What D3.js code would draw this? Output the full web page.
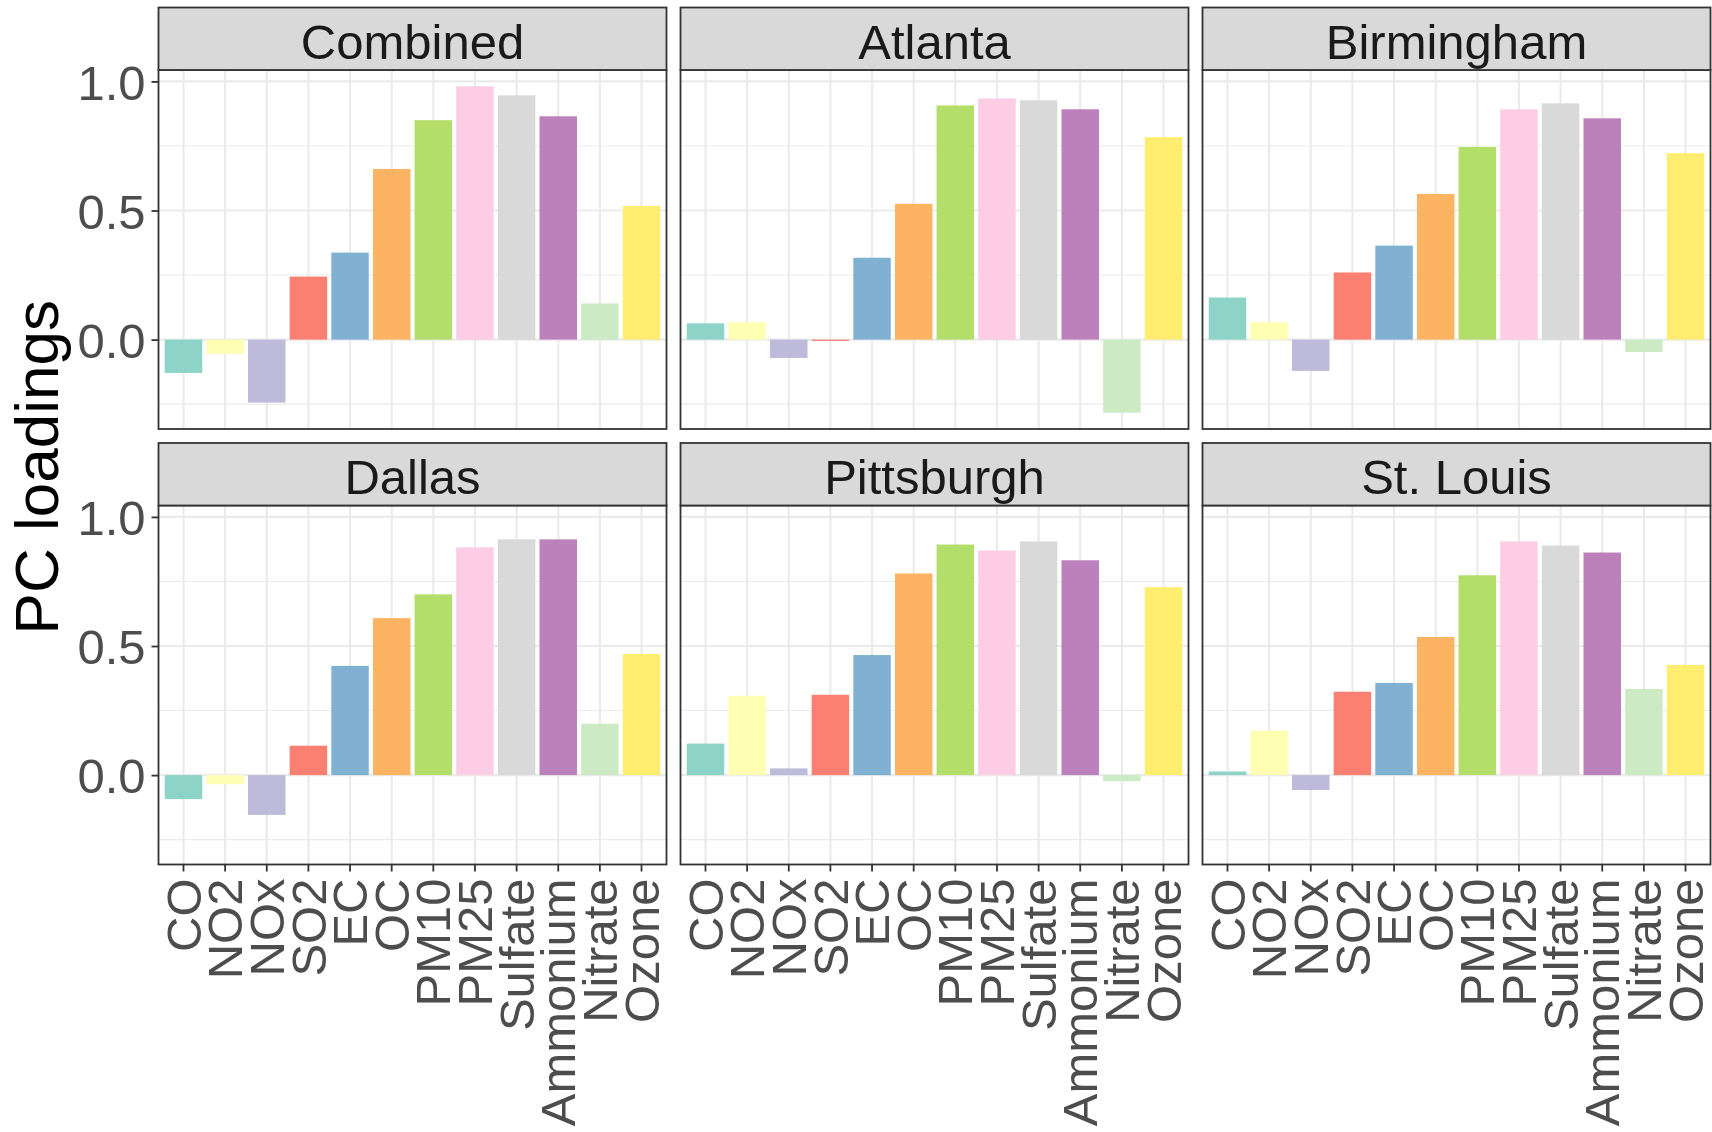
<!DOCTYPE html>
<html>
<head>
<meta charset="utf-8">
<script src="https://cdn.jsdelivr.net/npm/d3@7"></script>
<style>
  html, body { margin: 0; padding: 0; background: #fff; }
  svg { display: block; font-family: "Liberation Sans", Arial, Helvetica, sans-serif; }
</style>
</head>
<body>
<svg id="chart" width="1712" height="1132"></svg>
<script>
// categories and facets
const pollutants = ["CO", "NO2", "NOx", "SO2", "EC", "OC", "PM10", "PM25", "Sulfate", "Ammonium", "Nitrate", "Ozone"];
const cities = ["Combined", "Atlanta", "Birmingham", "Dallas", "Pittsburgh", "St. Louis"];

// PC loadings per facet
const combined   = [-0.129, -0.055, -0.244, 0.244, 0.337, 0.661, 0.850, 0.981, 0.946, 0.865, 0.140, 0.518];
const atlanta    = [0.063, 0.067, -0.071, -0.005, 0.317, 0.526, 0.907, 0.934, 0.927, 0.892, -0.283, 0.784];
const birmingham = [0.163, 0.067, -0.121, 0.260, 0.364, 0.564, 0.746, 0.892, 0.915, 0.857, -0.048, 0.722];
const dallas     = [-0.093, -0.035, -0.154, 0.114, 0.423, 0.608, 0.700, 0.882, 0.913, 0.913, 0.199, 0.469];
const pittsburgh = [0.122, 0.307, 0.026, 0.311, 0.465, 0.781, 0.893, 0.870, 0.905, 0.832, -0.023, 0.728];
const stLouis    = [0.014, 0.172, -0.058, 0.323, 0.357, 0.535, 0.774, 0.905, 0.889, 0.862, 0.334, 0.427];

const seriesByCity = [combined, atlanta, birmingham, dallas, pittsburgh, stLouis];

const yMajor = [0, 0.5, 1.0];
const yMinor = [-0.25, 0.25, 0.75];
const yTitle = "PC loadings";

// ColorBrewer Set3
const set3 = ["#8DD3C7", "#FFFFB3", "#BEBADA", "#FB8072", "#80B1D3", "#FDB462",
              "#B3DE69", "#FCCDE5", "#D9D9D9", "#BC80BD", "#CCEBC5", "#FFED6F"];

const svg = d3.select('#chart');

// layout
const left = 158.5, panelW = 508, gapX = 14;
const top0 = 7.5, stripH = 62.5, plotH = 359, gapY = 14;
const rowStep = stripH + plotH + gapY;
const axisFont = 49, stripFont = 49, titleFont = 62;

// shared y scale with ggplot-style 5% expansion
const all = seriesByCity.flat();
const lo = d3.min(all), hi = d3.max(all);
const pad = (hi - lo) * 0.05;

const color = d3.scaleOrdinal().domain(pollutants).range(set3);

seriesByCity.forEach((values, i) => {
  const col = i % 3, row = Math.floor(i / 3);
  const x0 = left + col * (panelW + gapX);
  const stripTop = top0 + row * rowStep;
  const py0 = stripTop + stripH;

  const x = d3.scaleBand()
    .domain(pollutants)
    .range([x0, x0 + panelW])
    .paddingInner(0.1)
    .paddingOuter(0.15);
  const y = d3.scaleLinear()
    .domain([lo - pad, hi + pad])
    .range([py0 + plotH, py0]);

  const g = svg.append('g');

  // panel background + grid
  g.append('rect')
    .attr('x', x0).attr('y', py0).attr('width', panelW).attr('height', plotH)
    .attr('fill', '#fff');
  g.selectAll('line.minor')
    .data(yMinor)
    .enter().append('line')
    .attr('x1', x0).attr('x2', x0 + panelW)
    .attr('y1', d => y(d)).attr('y2', d => y(d))
    .attr('stroke', '#EBEBEB').attr('stroke-width', 1.1);
  g.selectAll('line.majorY')
    .data(yMajor)
    .enter().append('line')
    .attr('x1', x0).attr('x2', x0 + panelW)
    .attr('y1', d => y(d)).attr('y2', d => y(d))
    .attr('stroke', '#EBEBEB').attr('stroke-width', 2.2);
  g.selectAll('line.majorX')
    .data(pollutants)
    .enter().append('line')
    .attr('x1', d => x(d) + x.bandwidth() / 2).attr('x2', d => x(d) + x.bandwidth() / 2)
    .attr('y1', py0).attr('y2', py0 + plotH)
    .attr('stroke', '#EBEBEB').attr('stroke-width', 2.2);

  // bars
  g.selectAll('rect.bar')
    .data(values)
    .enter().append('rect')
    .attr('x', (d, j) => x(pollutants[j]))
    .attr('width', x.bandwidth())
    .attr('y', d => y(Math.max(0, d)))
    .attr('height', d => Math.abs(y(d) - y(0)))
    .attr('fill', (d, j) => color(pollutants[j]));

  // panel border
  g.append('rect')
    .attr('x', x0).attr('y', py0).attr('width', panelW).attr('height', plotH)
    .attr('fill', 'none').attr('stroke', '#333333').attr('stroke-width', 1.8);

  // strip
  g.append('rect')
    .attr('x', x0).attr('y', stripTop).attr('width', panelW).attr('height', stripH)
    .attr('fill', '#D9D9D9').attr('stroke', '#333333').attr('stroke-width', 1.8);
  g.append('text')
    .attr('x', x0 + panelW / 2).attr('y', stripTop + 51)
    .attr('text-anchor', 'middle')
    .attr('font-size', stripFont)
    .attr('fill', '#1A1A1A')
    .text(cities[i]);

  // y axis on left column
  if (col === 0) {
    const ax = g.append('g')
      .attr('transform', `translate(${x0},0)`)
      .call(d3.axisLeft(y).tickValues(yMajor).tickFormat(d3.format('.1f')).tickSize(7).tickPadding(6));
    ax.select('.domain').remove();
    ax.selectAll('.tick line').attr('stroke', '#333333').attr('stroke-width', 1.8);
    ax.selectAll('.tick text')
      .attr('font-size', axisFont)
      .attr('font-family', null)
      .attr('fill', '#4D4D4D')
      .attr('dy', '0.36em');
  }

  // x axis on bottom row
  if (row === 1) {
    const ax = g.append('g')
      .attr('transform', `translate(0,${py0 + plotH})`)
      .call(d3.axisBottom(x).tickSize(7).tickPadding(0));
    ax.select('.domain').remove();
    ax.selectAll('.tick line').attr('stroke', '#333333').attr('stroke-width', 1.8);
    ax.selectAll('.tick text')
      .attr('font-size', axisFont)
      .attr('font-family', null)
      .attr('fill', '#4D4D4D')
      .attr('text-anchor', 'end')
      .attr('y', 0)
      .attr('dy', '0.35em')
      .attr('transform', 'translate(0,14) rotate(-90)');
  }
});

// y axis title
const panelsMid = (top0 + stripH + (top0 + rowStep + stripH + plotH)) / 2;
svg.append('text')
  .attr('transform', `translate(58,${panelsMid}) rotate(-90)`)
  .attr('text-anchor', 'middle')
  .attr('font-size', titleFont)
  .attr('fill', '#000')
  .text(yTitle);
</script>
</body>
</html>
